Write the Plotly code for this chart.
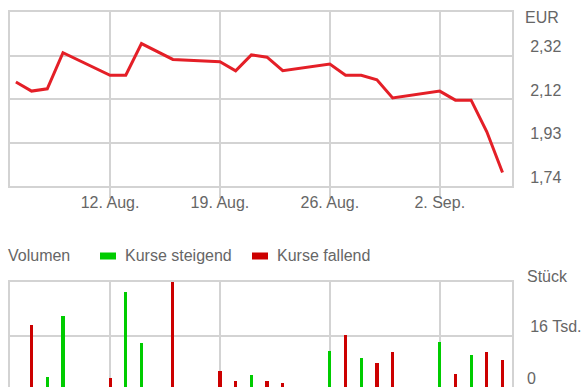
import plotly.graph_objects as go

# Daily closing prices (EUR) and traded volume (pieces)
dates = ["2019-08-06", "2019-08-07", "2019-08-08", "2019-08-09", "2019-08-12",
         "2019-08-13", "2019-08-14", "2019-08-16", "2019-08-19", "2019-08-20",
         "2019-08-21", "2019-08-22", "2019-08-23", "2019-08-26", "2019-08-27",
         "2019-08-28", "2019-08-29", "2019-08-30", "2019-09-02", "2019-09-03",
         "2019-09-04", "2019-09-05", "2019-09-06"]
close = [2.20, 2.16, 2.17, 2.33, 2.23, 2.23, 2.37, 2.30, 2.29, 2.25,
         2.32, 2.31, 2.25, 2.28, 2.23, 2.23, 2.21, 2.13, 2.16, 2.12,
         2.12, 1.98, 1.80]
volume = [0, 19500, 4000, 21900, 3900, 29000, 14200, 32000, 5900, 3000,
          4700, 3000, 2400, 11800, 16300, 9800, 8300, 11500, 14500, 5000,
          10700, 11500, 9200]

price_ticks = [1.74, 1.9325, 2.125, 2.3175]
price_labels = ["1,74", "1,93", "2,12", "2,32"]
vol_ticks = [16000]
vol_labels = ["16 Tsd."]

UP, DOWN = "#00cc00", "#cc0000"
LINE_RED = "#e41f27"
GRID = "#d3d3d3"
TXT = "#666666"
FONT = "Liberation Sans, Arial, sans-serif"

W, H = 583, 387
L, R = 10, 512


def px_x(p):
    return (p - L) / (R - L)


def px_y(p):
    return (H - p) / H


# colour each volume bar by the day's price move
bar_colors = [UP]
for prev, cur in zip(close[:-1], close[1:]):
    bar_colors.append(UP if cur >= prev else DOWN)

fig = go.Figure()
fig.add_trace(go.Scatter(x=dates, y=close, mode="lines",
                         line=dict(color=LINE_RED, width=3),
                         xaxis="x", yaxis="y", hoverinfo="skip"))
fig.add_trace(go.Bar(x=dates, y=volume, marker=dict(color=bar_colors, line=dict(width=0)),
                     width=0.2 * 86400000, xaxis="x2", yaxis="y2", hoverinfo="skip"))

x_range = ["2019-08-05 15:00", "2019-09-06 14:30"]
common_x = dict(range=x_range, type="date", showgrid=True, gridcolor=GRID, gridwidth=2,
                tick0="2019-08-12", dtick=7 * 86400000, zeroline=False, automargin=False)

fig.update_layout(
    template="none",
    width=W, height=H,
    margin=dict(l=L, r=W - R, t=0, b=0, pad=0),
    paper_bgcolor="white", plot_bgcolor="white",
    showlegend=False,
    font=dict(family=FONT, size=16, color=TXT),
    xaxis=dict(**common_x, anchor="y", tickformat="%-d. %b.",
               ticks="outside", ticklen=10, tickwidth=2, tickcolor=GRID,
               ticklabelstandoff=-9,
               showline=True, linecolor=GRID, linewidth=2, mirror=True,
               tickfont=dict(size=16, color=TXT)),
    yaxis=dict(domain=[px_y(186), px_y(12)], range=[1.74, 2.51], side="right",
               tickvals=price_ticks, ticktext=price_labels, automargin=False,
               showgrid=True, gridcolor=GRID, gridwidth=2, zeroline=False,
               showline=True, linecolor=GRID, linewidth=2, mirror=True,
               ticks="", ticklabelstandoff=13, ticklabelshift=-9,
               tickfont=dict(size=16, color=TXT)),
    xaxis2=dict(**common_x, anchor="y2", side="top", showticklabels=False,
                showline=True, linecolor=GRID, linewidth=2),
    yaxis2=dict(domain=[0, px_y(282)], range=[1150, 32000], side="right",
                tickvals=vol_ticks, ticktext=vol_labels, automargin=False,
                showgrid=True, gridcolor=GRID, gridwidth=2, zeroline=False,
                showline=True, linecolor=GRID, linewidth=2, mirror=True,
                ticks="", ticklabelstandoff=13, ticklabelshift=-10,
                tickfont=dict(size=16, color=TXT)),
    bargap=0,
)

def note(text, x_px, y_px, anchor="left"):
    fig.add_annotation(text=text, xref="paper", yref="paper", x=px_x(x_px), y=px_y(y_px),
                       xanchor=anchor, yanchor="middle", showarrow=False,
                       font=dict(family=FONT, size=16, color=TXT), borderpad=0)

# axis units and the zero label of the volume axis
note("EUR", 524, 18)
note("Stück", 526, 276)
note("0", 526, 378)

# legend row of the volume panel
note("Volumen", 7, 255)
legend_items = [("Kurse steigend", UP, 100), ("Kurse fallend", DOWN, 252)]
for label, color, x0 in legend_items:
    fig.add_shape(type="rect", xref="paper", yref="paper",
                  x0=px_x(x0), x1=px_x(x0 + 16), y0=px_y(259.5), y1=px_y(252.5),
                  fillcolor=color, line=dict(width=0))
    note(label, x0 + 24, 255)

fig.write_html("out.html")
